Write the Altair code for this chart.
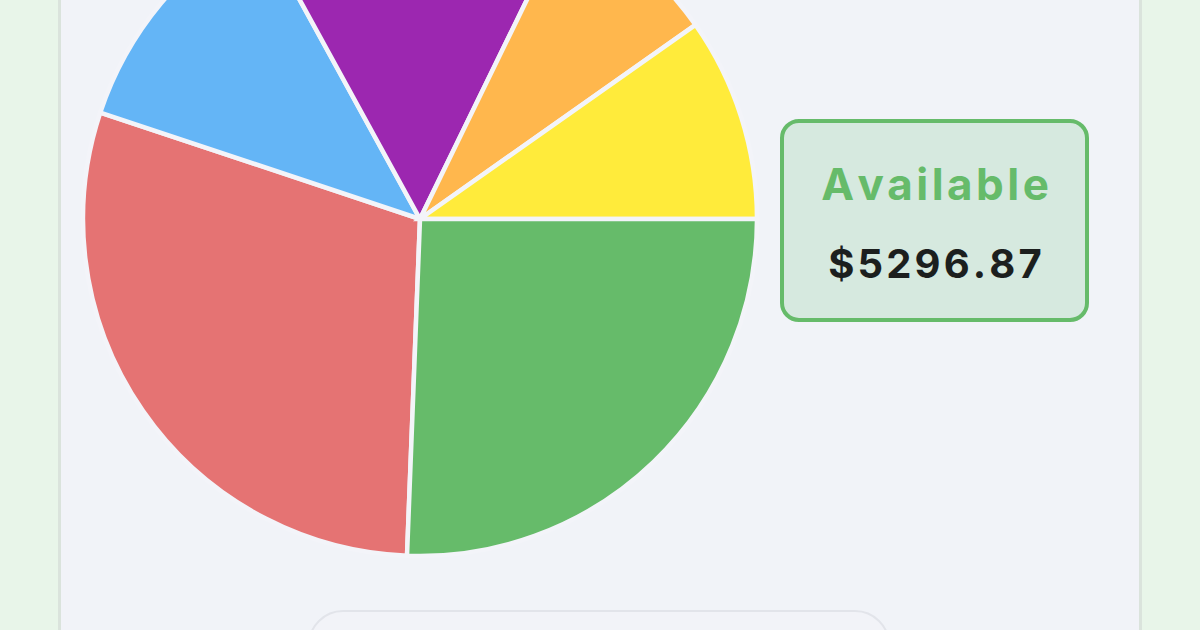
import math
import altair as alt
import pandas as pd

# ---- data ----
categories = ["Housing", "Shopping", "Entertainment", "Transport", "Utilities", "Available"]
values = [6100, 2460, 3145, 1655, 2020, 5296.87]
colors = ["#E57373", "#64B5F6", "#9C27B0", "#FFB74D", "#FFEB3B", "#66BB6A"]
slice_order = [4, 5, 6, 1, 2, 3]  # clockwise drawing order
highlight = "Available"

start = 0.4538  # start angle (radians, clockwise from 12 o'clock)

df = pd.DataFrame({"category": categories, "value": values, "ord": slice_order})
one = pd.DataFrame({"k": [0]})

W, H = 1200, 630
CX, CY, R = 420, 219, 337

# card background
card_shadow = alt.Chart(one).mark_rect(fill="#d6ded8", opacity=0.8).encode(
    x=alt.value(58), x2=alt.value(1142), y=alt.value(-30), y2=alt.value(H + 30)
)
card = alt.Chart(one).mark_rect(fill="#f1f3f8").encode(
    x=alt.value(61), x2=alt.value(1139), y=alt.value(-30), y2=alt.value(H + 30)
)

# bottom pill (partially visible)
pill = alt.Chart(one).mark_rect(
    fill="#f2f3f8", stroke="#e2e4ea", strokeWidth=2, cornerRadius=34
).encode(x=alt.value(309), x2=alt.value(889), y=alt.value(611), y2=alt.value(H + 60))

pie = alt.Chart(df).mark_arc(
    outerRadius=R, stroke="#f3f4f9", strokeWidth=4.5
).encode(
    theta=alt.Theta("value:Q", stack=True,
                    scale=alt.Scale(range=[start, start + 2 * math.pi])),
    color=alt.Color("category:N",
                    scale=alt.Scale(domain=categories, range=colors), legend=None),
    order=alt.Order("ord:Q"),
    x=alt.value(CX),
    y=alt.value(CY),
)

box = alt.Chart(one).mark_rect(
    fill="#d6e9df", stroke="#66BB6A", strokeWidth=4, cornerRadius=17
).encode(x=alt.value(782), x2=alt.value(1087), y=alt.value(121), y2=alt.value(320))

hl = alt.Chart(df).transform_filter(alt.datum.category == highlight)

# letter spacing emulated with hair spaces between glyphs
label = hl.transform_calculate(
    lbl="replace(datum.category, regexp('(.)(?=.)', 'g'), '$1\u200a')"
).mark_text(
    font="Inter", fontSize=44, fontWeight="bold", color="#66BB6A",
    align="center", baseline="alphabetic"
).encode(text="lbl:N", x=alt.value(935), y=alt.value(200))

amount = hl.transform_calculate(
    amt="replace('$' + format(datum.value, '.2f'), regexp('(.)(?=.)', 'g'), '$1\u200a')"
).mark_text(
    font="Inter", fontSize=40, fontWeight="bold", color="#1c1f1e",
    align="center", baseline="alphabetic"
).encode(text="amt:N", x=alt.value(935), y=alt.value(278))

chart = alt.layer(card_shadow, card, pill, pie, box, label, amount).properties(
    width=W, height=H, background="#e8f5e9", padding=0,
    autosize=alt.AutoSizeParams(type="none"),
).configure_view(stroke=None)

chart.save("out.html", embed_options={"renderer": "svg", "actions": False})
